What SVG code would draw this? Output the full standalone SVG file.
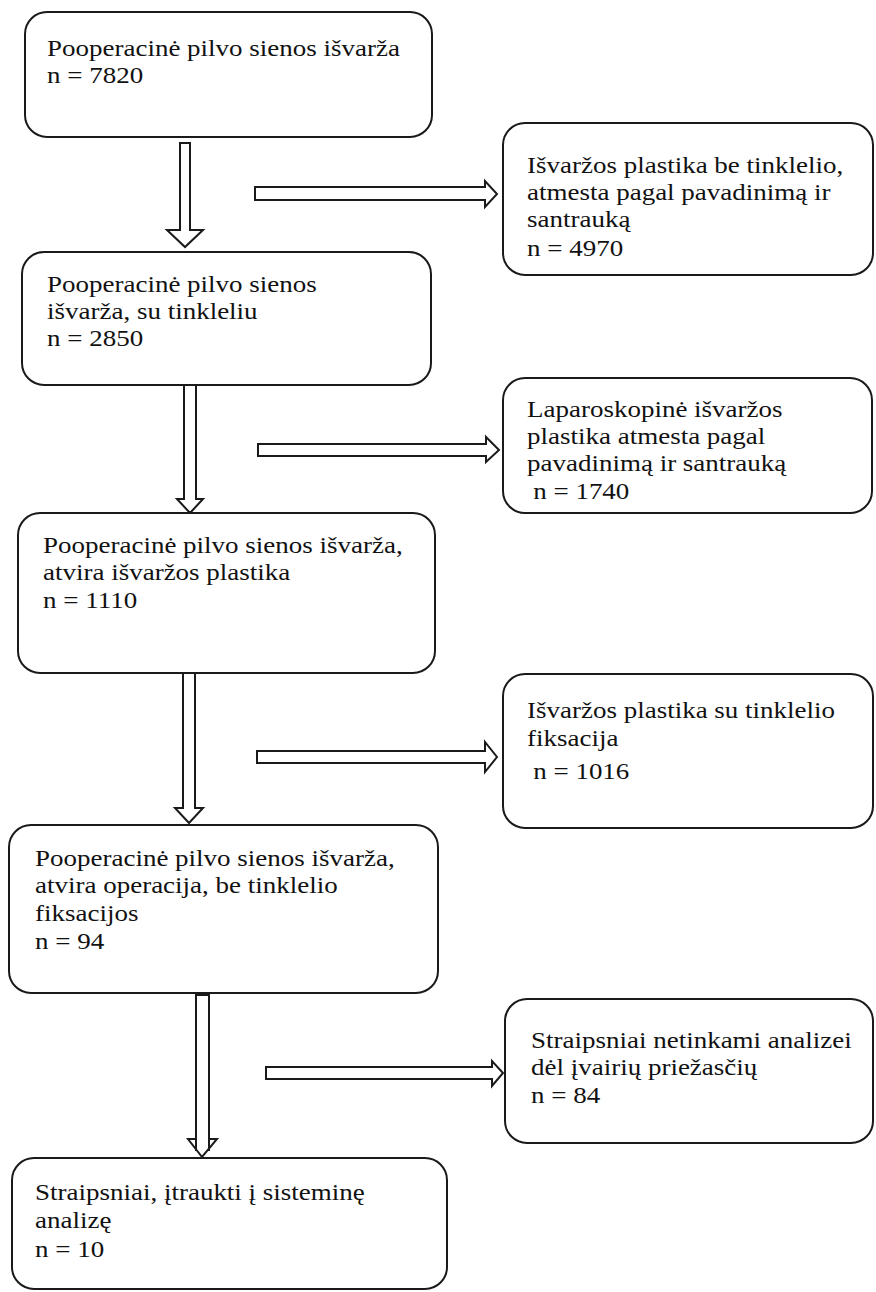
<svg xmlns="http://www.w3.org/2000/svg" width="876" height="1292" viewBox="0 0 876 1292">
<style>
.box{fill:#fff;stroke:#1a1a1a;stroke-width:2}
.arr{fill:#fff;stroke:#1a1a1a;stroke-width:2;stroke-linejoin:miter}
text{font-family:"Liberation Serif","Times New Roman",serif;font-size:24px;fill:#111}
</style>
<rect width="876" height="1292" fill="#fff"/>
<g id="connectors">
<polygon class="arr" points="180,143 190,143 190,230 203,230 185,247 167,230 180,230"/>
<polygon class="arr" points="255,187 485,187 485,181 497,194 485,207 485,200 255,200"/>
<polygon class="arr" points="184,385 196,385 196,499 203,499 190,513 177,499 184,499"/>
<polygon class="arr" points="258,444 486,444 486,437 499,450 486,462 486,456 258,456"/>
<polygon class="arr" points="183,673 195,673 195,808 203,808 189,823 175,808 183,808"/>
<polygon class="arr" points="257,751 485,751 485,742 497,757 485,772 485,763 257,763"/>
<polygon class="arr" points="196,995 209,995 209,1139 217,1139 202,1157 188,1139 196,1139"/>
<path d="M196,1139 V1151 M209,1139 V1151" fill="none" stroke="#1a1a1a" stroke-width="2"/>
<polygon class="arr" points="266,1067 492,1067 492,1061 503,1073 492,1086 492,1079 266,1079"/>
</g>
<g id="n1">
<rect class="box" x="25" y="12" width="407" height="125" rx="22"/>
<g transform="translate(47,0) scale(1.125,1)">
<text x="0" y="56">Pooperacinė pilvo sienos išvarža</text>
<text x="0" y="83">n = 7820</text>
</g>
</g>
<g id="n2">
<rect class="box" x="503" y="123" width="370" height="152" rx="22"/>
<g transform="translate(527,0) scale(1.125,1)">
<text x="0" y="173">Išvaržos plastika be tinklelio,</text>
<text x="0" y="200">atmesta pagal pavadinimą ir</text>
<text x="0" y="227">santrauką</text>
<text x="0" y="256">n = 4970</text>
</g>
</g>
<g id="n3">
<rect class="box" x="22" y="252" width="409" height="133" rx="22"/>
<g transform="translate(47,0) scale(1.125,1)">
<text x="0" y="292">Pooperacinė pilvo sienos</text>
<text x="0" y="319">išvarža, su tinkleliu</text>
<text x="0" y="346">n = 2850</text>
</g>
</g>
<g id="n4">
<rect class="box" x="503" y="378" width="369" height="135" rx="22"/>
<g transform="translate(527,0) scale(1.125,1)">
<text x="0" y="417">Laparoskopinė išvaržos</text>
<text x="0" y="444">plastika atmesta pagal</text>
<text x="0" y="471">pavadinimą ir santrauką</text>
<text x="5.5" y="499">n = 1740</text>
</g>
</g>
<g id="n5">
<rect class="box" x="18" y="513" width="417" height="160" rx="22"/>
<g transform="translate(43,0) scale(1.125,1)">
<text x="0" y="553">Pooperacinė pilvo sienos išvarža,</text>
<text x="0" y="580">atvira išvaržos plastika</text>
<text x="0" y="608">n = 1110</text>
</g>
</g>
<g id="n6">
<rect class="box" x="503" y="674" width="370" height="154" rx="22"/>
<g transform="translate(527,0) scale(1.125,1)">
<text x="0" y="718">Išvaržos plastika su tinklelio</text>
<text x="0" y="746">fiksacija</text>
<text x="5.5" y="779">n = 1016</text>
</g>
</g>
<g id="n7">
<rect class="box" x="9" y="825" width="429" height="168" rx="22"/>
<g transform="translate(35,0) scale(1.125,1)">
<text x="0" y="866">Pooperacinė pilvo sienos išvarža,</text>
<text x="0" y="893">atvira operacija, be tinklelio</text>
<text x="0" y="921">fiksacijos</text>
<text x="0" y="949">n = 94</text>
</g>
</g>
<g id="n8">
<rect class="box" x="505" y="999" width="368" height="144" rx="22"/>
<g transform="translate(531,0) scale(1.125,1)">
<text x="0" y="1048">Straipsniai netinkami analizei</text>
<text x="0" y="1075">dėl įvairių priežasčių</text>
<text x="0" y="1103">n = 84</text>
</g>
</g>
<g id="n9">
<rect class="box" x="12" y="1158" width="435" height="131" rx="22"/>
<g transform="translate(35,0) scale(1.125,1)">
<text x="0" y="1200">Straipsniai, įtraukti į sisteminę</text>
<text x="0" y="1228">analizę</text>
<text x="0" y="1257">n = 10</text>
</g>
</g>
</svg>
